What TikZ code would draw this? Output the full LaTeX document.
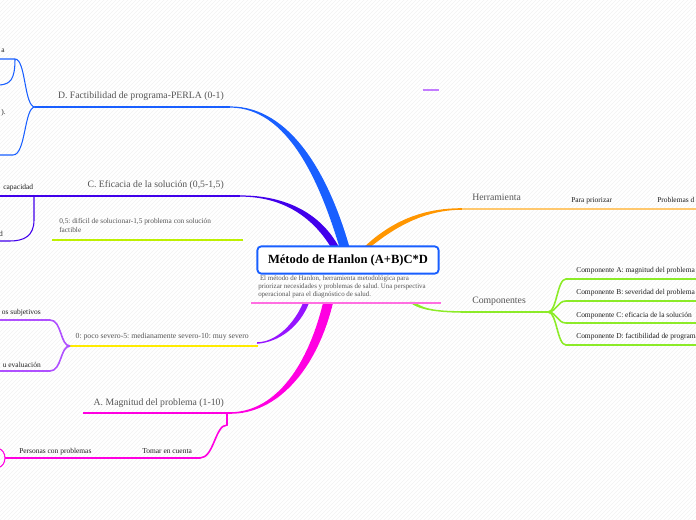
\documentclass[tikz,border=0pt]{standalone}
\usepackage{fontspec}
\setmainfont{Liberation Serif}
\usetikzlibrary{patterns}
\frenchspacing
\definecolor{hblue}{RGB}{25,95,255}
\definecolor{hviolet}{RGB}{65,0,235}
\definecolor{hpurple}{RGB}{150,20,255}
\definecolor{hlilac}{RGB}{175,80,255}
\definecolor{hmagenta}{RGB}{255,0,225}
\definecolor{hpink}{RGB}{255,110,225}
\definecolor{horange}{RGB}{255,150,0}
\definecolor{hlightorange}{RGB}{255,200,110}
\definecolor{hgreen}{RGB}{140,235,40}
\definecolor{hlime}{RGB}{190,240,0}
\definecolor{hyellow}{RGB}{255,235,0}
\definecolor{hgray}{RGB}{85,85,85}
\definecolor{hdark}{RGB}{30,30,30}
\tikzset{
  branch/.style={line width=.8pt},
  trunk/.style={line width=1.2pt},
  toplabel/.style={font=\fontsize{7.3}{8.8}\selectfont,text=hgray,inner sep=0pt},
  leaflabel/.style={font=\fontsize{5.6}{6.7}\selectfont,text=hdark,inner sep=0pt},
  notelabel/.style={font=\fontsize{5.5}{6.75}\selectfont,text=hgray,inner sep=0pt,align=left},
  hub/.style={draw=hblue,line width=1.4pt,rounded corners=3pt,fill=white,
    minimum width=136pt,minimum height=20.5pt,inner sep=0pt,
    font=\bfseries\fontsize{9.4}{11}\selectfont},
}
\begin{document}
\begin{tikzpicture}[x=.75pt,y=-.75pt]
\useasboundingbox (0,0) rectangle (696,520);
\fill[pattern=north east lines,pattern color=black!5] (0,0) rectangle (696,520);
% floating mark
\coordinate (mkL) at (423,90); \coordinate (mkR) at (439,90);
\draw[hlilac!75,line width=1.6pt] (mkL) -- (mkR);
% D. Factibilidad
\coordinate (dL) at (35,107); \coordinate (dR) at (230,107);
\coordinate (d1) at (15,59); \coordinate (d1e) at (0,59);
\coordinate (d2) at (13,155); \coordinate (d2e) at (0,155);
\coordinate (d11) at (0,85);
\fill[hblue] (340,249) .. controls (320,182) and (288,107.6) .. (230,107.6) -- (230,106.4) .. controls (292,106.4) and (330,178) .. (350,249) -- cycle;
\draw[hblue,branch] (dL) -- (dR);
\draw[hblue,branch] (dL) .. controls (24,107) and (26,59) .. (d1) -- (d1e);
\draw[hblue,branch] (dL) .. controls (24,107) and (26,155) .. (d2) -- (d2e);
\draw[hblue,branch] (d1) .. controls (15,80) and (10,84) .. (d11);
\node[toplabel,anchor=base east] (dlab) at (224,99) {D. Factibilidad de programa-PERLA (0-1)};
\node[leaflabel,anchor=base east] (d1lab) at (5,53) {a};
\node[leaflabel,anchor=base east] (d2lab) at (6,115) {).};
% C. Eficacia
\coordinate (c0) at (0,196); \coordinate (cL) at (34,196); \coordinate (cR) at (240,196);
\coordinate (cK) at (34,220); \coordinate (c2) at (10,241); \coordinate (c2e) at (0,241);
\fill[hviolet] (332,249) .. controls (316,222) and (288,196.6) .. (240,196.6) -- (240,195.4) .. controls (292,195.4) and (324,218) .. (340,249) -- cycle;
\draw[hviolet,branch] (c0) -- (cR);
\draw[hviolet,branch] (cL) -- (cK) .. controls (34,236) and (24,241) .. (c2) -- (c2e);
\node[toplabel,anchor=base east] (clab) at (224,188) {C. Eficacia de la solución (0,5-1,5)};
\node[leaflabel,anchor=base west] (c1lab) at (3,190) {capacidad};
\node[leaflabel,anchor=base east] (c2lab) at (3,237) {d};
\coordinate (nL) at (52,240); \coordinate (nR) at (243,240);
\draw[hlime,branch] (nL) -- (nR);
\node[notelabel,anchor=south west] (nlab) at (59,232.5) {0,5: difícil de solucionar-1,5 problema con solución\\factible};
% Herramienta
\coordinate (hL) at (462,209); \coordinate (h1) at (560,209);
\coordinate (h2) at (650,209); \coordinate (hR) at (696,209);
\fill[horange] (368,249) .. controls (398,224) and (428,209.8) .. (462,209.8) -- (462,208.2) .. controls (424,208.2) and (392,220) .. (362,249) -- cycle;
\draw[hlightorange,trunk] (hL) -- (h1);
\draw[hlightorange,trunk] (h1) -- (h2);
\draw[hlightorange,trunk] (h2) -- (hR);
\node[toplabel,anchor=base west] (hlab) at (472,201) {Herramienta};
\node[leaflabel,anchor=base west] (h1lab) at (571,203) {Para priorizar};
\node[leaflabel,anchor=base west] (h2lab) at (657,203) {Problemas d};
% Componentes
\coordinate (gL) at (470,312); \coordinate (gF) at (548,312);
\fill[hgreen] (414.5,302) .. controls (425,310) and (440,311.2) .. (470,311.2) -- (470,312.8) .. controls (438,313) and (418,310) .. (409.5,302) -- cycle;
\draw[hgreen,trunk] (gL) -- (gF);
\node[toplabel,anchor=base west] (glab) at (472,304) {Componentes};
\foreach \y/\name/\txt in {279/ga/Componente A: magnitud del problema,
  301/gb/Componente B: severidad del problema,
  323/gc/Componente C: eficacia de la solución,
  345/gd/Componente D: factibilidad de programa}{
  \coordinate (\name) at (566,\y); \coordinate (\name e) at (696,\y);
  \draw[hgreen,trunk] (gF) .. controls (557,312) and (557,\y) .. (\name) -- (\name e);
  \node[leaflabel,anchor=base west] (\name lab) at (576,\y-6) {\txt};
}
% B. Severidad
\coordinate (bL) at (70,346); \coordinate (bR) at (258,346);
\coordinate (b1) at (50,320); \coordinate (b1e) at (0,320);
\coordinate (b2) at (50,371); \coordinate (b2e) at (0,371);
\fill[hpurple] (303,303) .. controls (294,324) and (276,342.2) .. (257,342.2) -- (257,343.8) .. controls (280,342) and (300,326) .. (309,303) -- cycle;
\draw[hyellow,trunk] (bL) -- (bR);
\draw[hlilac,trunk] (bL) .. controls (60,346) and (62,320) .. (b1) -- (b1e);
\draw[hlilac,trunk] (bL) .. controls (60,346) and (62,371) .. (b2) -- (b2e);
\node[notelabel,font=\fontsize{5.8}{7}\selectfont,anchor=base east] (blab) at (249,339) {0: poco severo-5: medianamente severo-10: muy severo};
\node[leaflabel,anchor=base east] (b1lab) at (41,315) {os subjetivos};
\node[leaflabel,anchor=base east] (b2lab) at (41,367) {u evaluación};
% A. Magnitud
\coordinate (aL) at (83,413); \coordinate (aR) at (230,413);
\coordinate (aK) at (227,413); \coordinate (aK2) at (227,425);
\coordinate (a1) at (200,458); \coordinate (a2) at (105,458); \coordinate (a2e) at (5,458);
\coordinate (a3) at (0,449); \coordinate (a4) at (0,467);
\fill[hmagenta] (323,303) .. controls (306,372) and (272,412.2) .. (230,412.2) -- (230,413.8) .. controls (276,414) and (316,372) .. (333,303) -- cycle;
\draw[hmagenta,trunk] (aL) -- (aR);
\draw[hmagenta,trunk] (aK) -- (aK2) .. controls (215,425) and (214,458) .. (a1) -- (a2);
\draw[hmagenta,trunk] (a2) -- (a2e);
\draw[hmagenta,branch] (a2e) .. controls (5,453) and (2,450) .. (a3);
\draw[hmagenta,branch] (a2e) .. controls (5,463) and (2,466) .. (a4);
\node[toplabel,anchor=base east] (alab) at (224,405) {A. Magnitud del problema (1-10)};
\node[leaflabel,anchor=base west] (a1lab) at (142,453) {Tomar en cuenta};
\node[leaflabel,anchor=base west] (a2lab) at (19,453) {Personas con problemas};
% centre
\coordinate (pL) at (251,303); \coordinate (pR) at (441,303);
\draw[hpink,trunk] (pL) -- (pR);
\node[hub] (hub) at (348,260) {Método de Hanlon (A+B)C*D};
\node[notelabel,font=\fontsize{5.2}{6}\selectfont,anchor=north west] (desc) at (258,275.5) {~El método de Hanlon, herramienta metodológica para\\priorizar necesidades y problemas de salud. Una perspectiva\\operacional para el diagnóstico de salud.};
\end{tikzpicture}
\end{document}
